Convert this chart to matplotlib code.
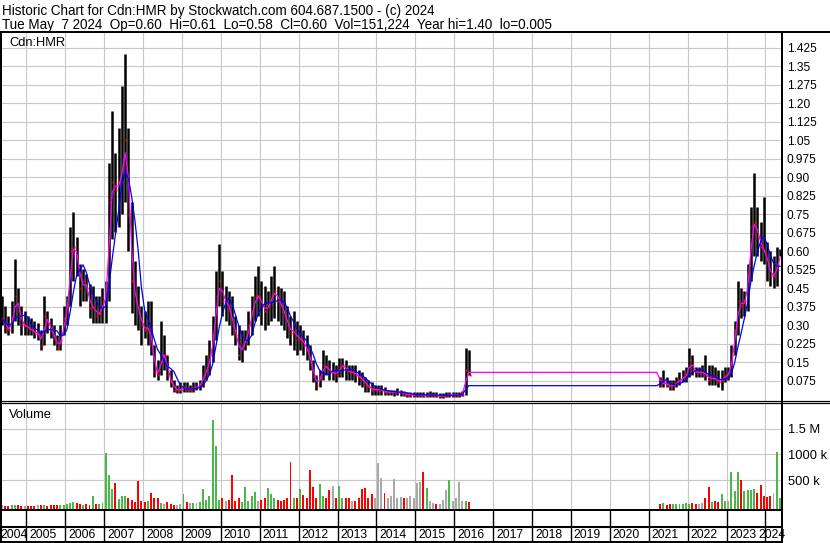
import numpy as np
import pandas as pd
import matplotlib
matplotlib.use("Agg")
import matplotlib.pyplot as plt
import matplotlib.transforms as mtransforms

plt.rcParams['font.family'] = ['Liberation Sans', 'DejaVu Sans']

# ---------------- data (monthly) ----------------
# Era A: May 2004 .. May 2016
high_a = [
    .42, .38, .34, .40, .57, .45, .38, .36,                              # 2004 May-Dec
    .34, .33, .32, .31, .28, .42, .36, .33, .30, .26, .30, .38,          # 2005
    .42, .70, .76, .66, .55, .53, .51, .47, .46, .42, .42, .45,          # 2006
    .48, .96, 1.17, 1.00, 1.10, 1.27, 1.40, 1.10, .80, .56, .46, .38,    # 2007
    .36, .40, .40, .22, .16, .32, .26, .18, .12, .08, .06, .07,          # 2008
    .07, .07, .06, .07, .07, .08, .14, .18, .24, .34, .52, .63,          # 2009
    .52, .46, .44, .42, .34, .30, .28, .28, .36, .42, .50, .54,          # 2010
    .48, .46, .44, .50, .54, .46, .45, .44, .38, .34, .36, .32,          # 2011
    .30, .28, .26, .22, .16, .10, .12, .20, .18, .16, .15, .14,          # 2012
    .17, .17, .16, .14, .14, .14, .12, .11, .09, .08, .07, .06,          # 2013
    .06, .06, .05, .04, .04, .04, .045, .04, .035, .03, .03, .03,        # 2014
    .03, .03, .03, .03, .035, .03, .03, .025, .025, .03, .03, .03,       # 2015
    .03, .03, .035, .21, .20,                                            # 2016 Jan-May
]
low_a = [
    .30, .27, .26, .27, .32, .30, .26, .26,
    .26, .26, .25, .24, .20, .22, .27, .25, .22, .20, .20, .26,
    .30, .38, .48, .50, .38, .40, .40, .33, .31, .31, .31, .31,
    .31, .40, .65, .68, .70, .75, .80, .60, .35, .30, .28, .22,
    .25, .22, .18, .09, .08, .10, .12, .08, .05, .03, .025, .025,
    .03, .03, .03, .03, .04, .04, .05, .08, .10, .15, .24, .38,
    .34, .32, .30, .26, .22, .16, .15, .20, .22, .26, .32, .34,
    .30, .28, .30, .32, .33, .32, .30, .28, .25, .22, .20, .18,
    .20, .18, .16, .12, .07, .04, .05, .08, .10, .08, .08, .07,
    .09, .09, .08, .08, .08, .07, .06, .05, .03, .03, .02, .02,
    .02, .02, .02, .02, .02, .015, .02, .015, .015, .01, .01, .01,
    .01, .01, .01, .01, .01, .01, .01, .005, .005, .01, .01, .01,
    .01, .01, .015, .02, .10,
]
close_a = [
    .33, .29, .28, .33, .42, .36, .30, .30,
    .29, .28, .27, .27, .22, .34, .31, .28, .25, .21, .24, .33,
    .38, .60, .62, .58, .45, .48, .45, .37, .38, .34, .35, .40,
    .42, .80, .88, .85, .88, .95, 1.05, .75, .48, .40, .35, .30,
    .28, .30, .22, .11, .10, .18, .18, .10, .07, .04, .04, .04,
    .05, .04, .04, .05, .05, .06, .10, .12, .18, .26, .42, .48,
    .40, .40, .36, .30, .26, .18, .22, .24, .30, .36, .42, .42,
    .38, .36, .38, .42, .44, .40, .38, .34, .30, .27, .28, .24,
    .25, .22, .20, .15, .09, .06, .09, .14, .13, .11, .11, .10,
    .13, .14, .12, .11, .11, .10, .09, .08, .06, .05, .04, .04,
    .04, .04, .03, .03, .03, .03, .03, .03, .02, .02, .02, .02,
    .02, .02, .015, .02, .02, .02, .015, .015, .015, .015, .02, .02,
    .02, .02, .02, .12, .10,
]
volume_a_k = [
    15, 10, 10, 20, 30, 15, 10, 10,
    10, 10, 10, 15, 20, 15, 10, 15, 20, 20, 25, 30,
    40, 60, 90, 70, 40, 30, 40, 30, 200, 40, 50, 60,
    1030, 600, 330, 440, 140, 200, 200, 160, 120, 80, 490, 100,
    80, 100, 250, 160, 160, 60, 50, 80, 40, 30, 30, 40,
    235, 80, 60, 60, 60, 80, 326, 120, 200, 1664, 1162, 120,
    150, 100, 120, 602, 100, 150, 80, 377, 100, 200, 274, 100,
    120, 150, 345, 235, 150, 120, 100, 120, 150, 860, 150, 150,
    326, 220, 150, 700, 377, 150, 429, 200, 150, 313, 390, 150,
    390, 150, 160, 150, 100, 100, 150, 326, 345, 150, 235, 150,
    828, 538, 250, 150, 200, 519, 150, 180, 150, 150, 200, 150,
    442, 473, 666, 351, 100, 60, 50, 50, 120, 313, 506, 100,
    164, 473, 100, 100, 80,
]
# Era B: Apr 2021 .. May 2024
high_b = [
    .09, .12, .09, .08, .08, .09, .11, .12, .13,                         # 2021 Apr-Dec
    .21, .18, .13, .13, .14, .18, .14, .14, .13, .12, .12, .13,          # 2022
    .13, .22, .32, .48, .45, .44, .55, .78, .92, .78, .72, .82,          # 2023
    .64, .60, .58, .62, .61,                                             # 2024 Jan-May
]
low_b = [
    .05, .05, .05, .04, .04, .05, .06, .07, .07,
    .09, .10, .09, .09, .09, .08, .06, .06, .06, .05, .04, .07,
    .08, .09, .18, .26, .33, .34, .36, .48, .58, .58, .56, .55,
    .48, .46, .45, .46, .58,
]
close_b = [
    .06, .07, .06, .05, .06, .07, .08, .09, .10,
    .16, .12, .11, .11, .11, .10, .08, .09, .08, .07, .08, .10,
    .10, .18, .28, .40, .38, .40, .50, .70, .72, .66, .62, .60,
    .55, .50, .50, .55, .60,
]
volume_b_k = [
    40, 60, 30, 40, 50, 40, 50, 40, 60,
    50, 60, 40, 50, 60, 160, 365, 80, 100, 80, 235, 100,
    100, 666, 300, 666, 506, 300, 313, 313, 330, 250, 409, 200,
    180, 200, 250, 1052, 151,
]
price_ticks = [0.075 * k for k in range(1, 20)]
volume_ticks = [500_000, 1_000_000, 1_500_000]
volume_tick_labels = ['500 k', '1000 k', '1.5 M']
years = list(range(2004, 2025))

header1 = "Historic Chart for Cdn:HMR by Stockwatch.com 604.687.1500 - (c) 2024"
header2 = ("Tue May  7 2024  Op=0.60  Hi=0.61  Lo=0.58  Cl=0.60  "
           "Vol=151,224  Year hi=1.40  lo=0.005")

# ---------------- assemble ----------------
idx = pd.period_range('2004-05', '2016-05', freq='M').append(
    pd.period_range('2021-04', '2024-05', freq='M'))
df = pd.DataFrame({
    'high': high_a + high_b,
    'low': low_a + low_b,
    'close': close_a + close_b,
    'vol': np.array(volume_a_k + volume_b_k) * 1000.0,
}, index=idx)
full = pd.period_range('2004-05', '2024-05', freq='M')


def frac(pi):
    return np.asarray(pi.year + (pi.month - 0.5) / 12.0, dtype=float)


x = frac(df.index)
xf = frac(full)
ma_fast = df['close'].rolling(2, min_periods=1).mean().reindex(full).ffill()
ma_slow = df['close'].rolling(5, min_periods=1).mean().reindex(full).ffill()
chg = df['close'].diff().fillna(0).values
vcol = np.where(chg > 0, '#4cb84c', np.where(chg < 0, '#ff0000', '#a9a9a9'))

# ---------------- figure ----------------
W, H = 830, 543
fig = plt.figure(figsize=(W / 100, H / 100), dpi=100)
fig.patch.set_facecolor('white')


def rect(x0, y0, x1, y1):
    return [x0 / W, 1 - y1 / H, (x1 - x0) / W, (y1 - y0) / H]


T0 = 2005 + (2 - 26.3) / 38.9
T1 = 2005 + (781 - 26.3) / 38.9
GRID = '#c8c8c8'
FS = 9.3

# price panel
ax = fig.add_axes(rect(2, 32, 781, 400.5))
ax.set_xlim(T0, T1)
ax.set_ylim(-1 / 246.7, (399.5 - 32) / 246.7)
ax.set_xticks(years[1:])
ax.set_yticks(price_ticks)
ax.grid(True, color=GRID, lw=0.8)
ax.set_axisbelow(True)
for s in ax.spines.values():
    s.set_visible(False)
ax.tick_params(axis='both', length=0)
ax.tick_params(axis='x', labelbottom=False)
ax.yaxis.tick_right()


def pfmt(v):
    s = f"{v:.3f}"
    return s[:-1] if s.endswith('0') else s


ax.set_yticklabels([pfmt(v) for v in price_ticks], fontsize=8.6)
ax.tick_params(axis='y', pad=4)
ax.vlines(x, df['low'], df['high'], color='black', lw=1.8, zorder=3)
ax.plot(x + 0.02, df['close'], 's', ms=1.8, color='#ff0000', mec='none', zorder=4)
ax.plot(xf, ma_fast, color='#ff00ff', lw=0.9, zorder=5)
ax.plot(xf, ma_slow, color='#0000ff', lw=0.9, zorder=6)
ax.text(7 / 779, 1 - (46.5 - 32) / 368.5, 'Cdn:HMR', transform=ax.transAxes,
        fontsize=FS, va='baseline', ha='left')

# volume panel
vlo = -(509.5 - 506.2) * (500_000 / 25.9)
vhi = (506.2 - 403) * (500_000 / 25.9)
axv = fig.add_axes(rect(2, 403, 781, 509.5))
axv.set_xlim(T0, T1)
axv.set_ylim(vlo, vhi)
axv.set_xticks(years[1:])
axv.set_yticks(volume_ticks)
axv.grid(True, color=GRID, lw=0.8)
axv.set_axisbelow(True)
for s in axv.spines.values():
    s.set_visible(False)
axv.tick_params(axis='both', length=0)
axv.tick_params(axis='x', labelbottom=False)
axv.yaxis.tick_right()
axv.set_yticklabels(volume_tick_labels, fontsize=FS)
axv.tick_params(axis='y', pad=5)
axv.bar(x, df['vol'].values - vlo, bottom=vlo, width=0.6 / 12, color=vcol,
        linewidth=0, zorder=3)
axv.text(7.3 / 779, 1 - (418.3 - 403) / 106.5, 'Volume', transform=axv.transAxes,
         fontsize=FS, va='baseline', ha='left')

# date rows
axd = fig.add_axes(rect(2, 509.5, 781, 541.5))
axd.set_xlim(T0, T1)
axd.set_ylim(0, 1)
axd.axis('off')
for yr in years[1:]:
    axd.axvline(yr, color='black', lw=1.0)
axd.axhline((541.5 - 527) / 32.0, color='black', lw=1.5)
trans = mtransforms.blended_transform_factory(axd.transData, axd.transAxes)
for yr in years:
    if yr == years[0]:
        xt, ha, dx = T0, 'left', -2
    elif yr == years[-1]:
        xt, ha, dx = T1, 'right', 4.5
    else:
        xt, ha, dx = yr, 'left', 3
    tr = trans + mtransforms.ScaledTranslation(dx / 100, 0, fig.dpi_scale_trans)
    axd.text(xt, (541.5 - 534.5) / 32.0, str(yr), transform=tr, ha=ha,
             va='center', fontsize=8.8, clip_on=False)

# overlay frame lines and header text (pixel coordinates)
ov = fig.add_axes([0, 0, 1, 1], zorder=10)
ov.set_xlim(0, W)
ov.set_ylim(H, 0)
ov.axis('off')
ov.patch.set_alpha(0)
px = 0.72
ov.plot([0, W], [31.5, 31.5], color='black', lw=2 * px)
ov.plot([1, 1], [31.5, H], color='black', lw=2 * px)
ov.plot([781.5, 781.5], [31.5, H], color='black', lw=2 * px)
ov.plot([0, W], [401, 401], color='black', lw=1.2 * px)
ov.plot([0, W], [403, 403], color='black', lw=1.2 * px)
ov.plot([0, 781.5], [510, 510], color='black', lw=2 * px)
ov.plot([0, 781.5], [541.8, 541.8], color='black', lw=2 * px)
ov.text(2, 15, header1, fontsize=9.75, va='baseline', ha='left')
ov.text(2, 28.5, header2, fontsize=9.75, va='baseline', ha='left')

fig.savefig('out.png', dpi=100)
